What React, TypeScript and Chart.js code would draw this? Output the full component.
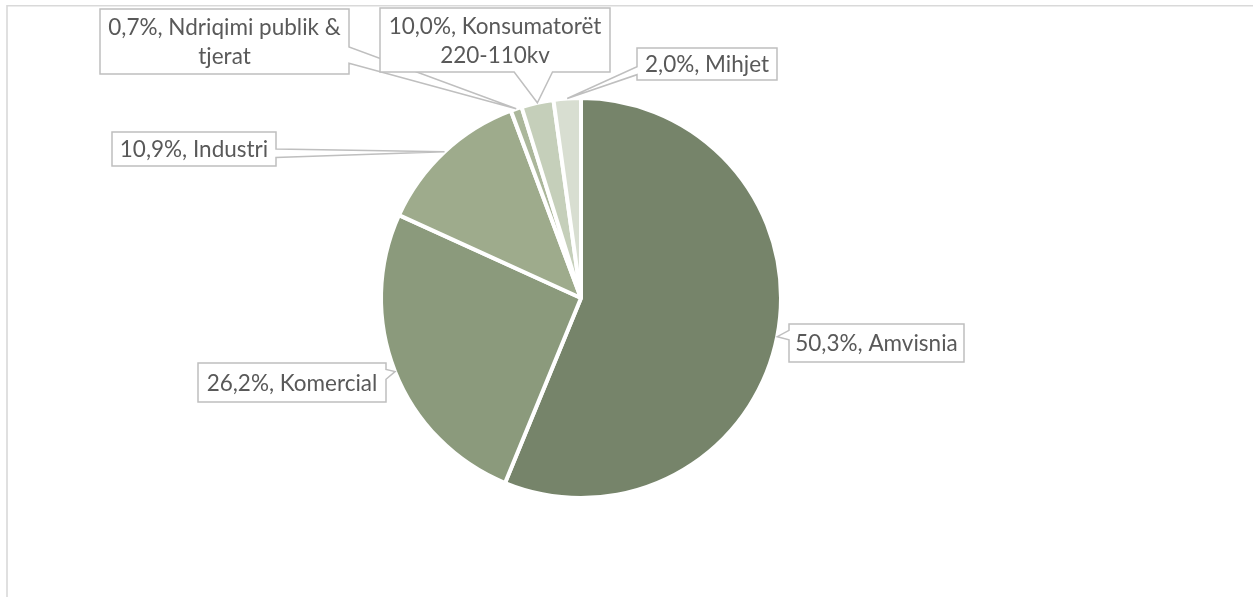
import React, { useEffect, useRef } from "react";
import { Chart, registerables } from "chart.js";

Chart.register(...registerables);

// ---- data ----
const categories = [
  "Amvisnia",
  "Komercial",
  "Industri",
  "Ndriqimi publik & tjerat",
  "Konsumatorët 220-110kv",
  "Mihjet",
];
// visual slice sizes (share of the circle as drawn)
const sliceShares = [56.2, 25.6, 12.5, 0.9, 2.6, 2.2];
// percentages printed in the data labels
const labelPercents = ["50,3%", "26,2%", "10,9%", "0,7%", "10,0%", "2,0%"];
const sliceColors = ["#76846A", "#8B9A7C", "#9EAB8C", "#ABB79B", "#C5CFBA", "#D8DED1"];

// ---- label layout (callout boxes) ----
type Side = "left" | "right" | "top" | "bottom";
interface Callout {
  x: number;
  y: number;
  w: number;
  h: number;
  side: Side;
  b0: number;
  b1: number;
}
const callouts: Callout[] = [
  { x: 789, y: 324, w: 175, h: 38, side: "left", b0: 2 / 12, b1: 5 / 12 },
  { x: 198, y: 363, w: 188, h: 39, side: "right", b0: 2 / 12, b1: 5 / 12 },
  { x: 112, y: 132, w: 164, h: 34, side: "right", b0: 6 / 12, b1: 9 / 12 },
  { x: 100, y: 9, w: 249, h: 65, side: "right", b0: 7 / 12, b1: 10 / 12 },
  { x: 380, y: 8, w: 230, h: 64, side: "bottom", b0: 7 / 12, b1: 9 / 12 },
  { x: 637, y: 48, w: 140, h: 32, side: "left", b0: 7 / 12, b1: 10 / 12 },
];

function labelLinesFor(i: number): string[] {
  if (i === 3) return [`${labelPercents[i]}, Ndriqimi publik &`, "tjerat"];
  if (i === 4) return [`${labelPercents[i]}, Konsumatorët`, "220-110kv"];
  return [`${labelPercents[i]}, ${categories[i]}`];
}

const FONT = "22.5px Lato";
const TEXT_COLOR = "#595959";
const BOX_STROKE = "#BFBFBF";

const calloutPlugin = {
  id: "callouts",
  afterDraw(chart: any) {
    const ctx: CanvasRenderingContext2D = chart.ctx;
    const meta = chart.getDatasetMeta(0);
    ctx.save();
    // frame
    ctx.strokeStyle = "#D9D9D9";
    ctx.lineWidth = 1.6;
    ctx.beginPath();
    ctx.moveTo(7, 597);
    ctx.lineTo(7, 5.8);
    ctx.lineTo(1253, 5.8);
    ctx.stroke();

    meta.data.forEach((arc: any, i: number) => {
      const c = callouts[i];
      if (!c) return;
      const p = arc.getProps(["x", "y", "startAngle", "endAngle", "outerRadius"], true);
      const mid = (p.startAngle + p.endAngle) / 2;
      const tx = p.x + Math.cos(mid) * p.outerRadius;
      const ty = p.y + Math.sin(mid) * p.outerRadius;
      const { x, y, w, h } = c;
      const pts: [number, number][] = [];
      pts.push([x, y]);
      if (c.side === "top") {
        pts.push([x + w * c.b0, y], [tx, ty], [x + w * c.b1, y]);
      }
      pts.push([x + w, y]);
      if (c.side === "right") {
        pts.push([x + w, y + h * c.b0], [tx, ty], [x + w, y + h * c.b1]);
      }
      pts.push([x + w, y + h]);
      if (c.side === "bottom") {
        pts.push([x + w * c.b1, y + h], [tx, ty], [x + w * c.b0, y + h]);
      }
      pts.push([x, y + h]);
      if (c.side === "left") {
        pts.push([x, y + h * c.b1], [tx, ty], [x, y + h * c.b0]);
      }
      ctx.beginPath();
      pts.forEach(([px, py], k) => (k === 0 ? ctx.moveTo(px, py) : ctx.lineTo(px, py)));
      ctx.closePath();
      ctx.fillStyle = "#FFFFFF";
      ctx.fill();
      ctx.strokeStyle = BOX_STROKE;
      ctx.lineWidth = 1.5;
      ctx.lineJoin = "miter";
      ctx.stroke();

      const lines = labelLinesFor(i);
      ctx.fillStyle = TEXT_COLOR;
      ctx.font = FONT;
      ctx.textAlign = "center";
      ctx.textBaseline = "middle";
      const lh = 29;
      const cy = y + h / 2 - ((lines.length - 1) * lh) / 2;
      lines.forEach((ln, k) => ctx.fillText(ln, x + w / 2, cy + k * lh + 1));
    });
    ctx.restore();
  },
};

export default function App() {
  const ref = useRef<HTMLCanvasElement | null>(null);
  useEffect(() => {
    document.body.style.margin = "0";
    const canvas = ref.current;
    if (!canvas) return;
    const chart = new Chart(canvas, {
      type: "pie",
      data: {
        labels: categories,
        datasets: [
          {
            data: sliceShares,
            backgroundColor: sliceColors,
            borderColor: "#FFFFFF",
            borderWidth: 4,
            radius: 200,
          } as any,
        ],
      },
      options: {
        animation: false,
        responsive: false,
        events: [],
        layout: { padding: { left: 0, right: 91, top: 0, bottom: 1 } },
        plugins: {
          legend: { display: false },
          tooltip: { enabled: false },
          title: { display: false },
        },
      },
      plugins: [calloutPlugin],
    });
    return () => chart.destroy();
  }, []);
  return (
    <div style={{ width: 1253, height: 597, background: "#fff" }}>
      <canvas ref={ref} width={1253} height={597} style={{ width: 1253, height: 597, display: "block" }} />
    </div>
  );
}
